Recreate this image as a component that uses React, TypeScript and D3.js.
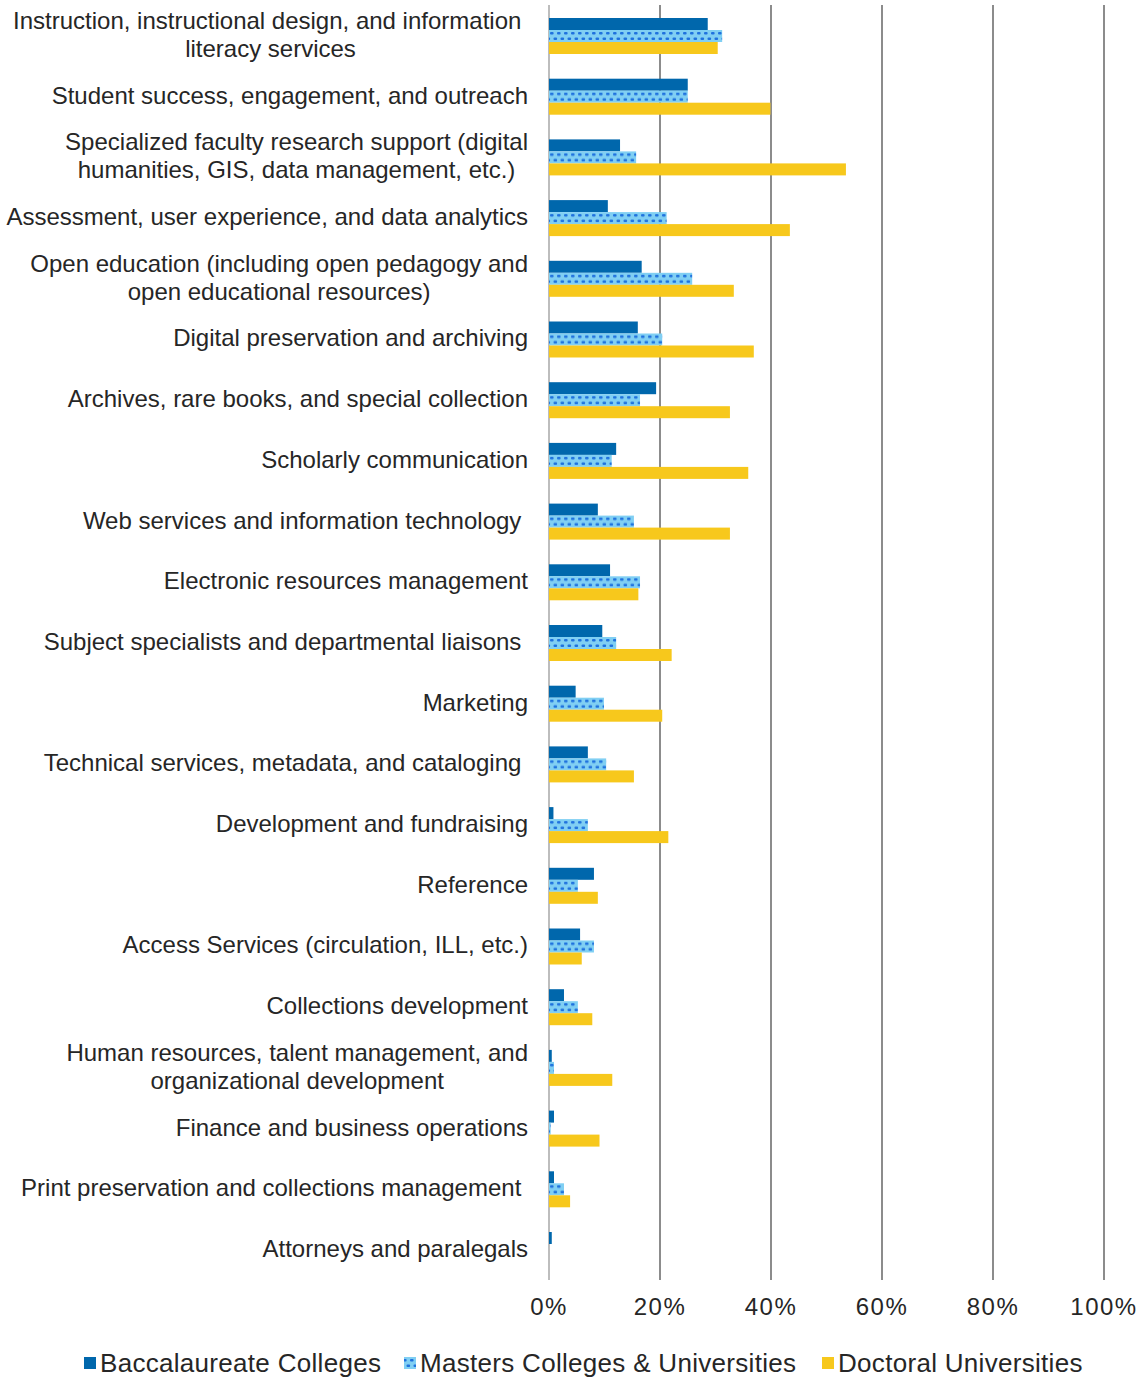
import React, { useEffect, useRef } from 'react';
import * as d3 from 'd3';

const categories: string[] = [
  'Instruction, instructional design, and information \nliteracy services',
  'Student success, engagement, and outreach',
  'Specialized faculty research support (digital\nhumanities, GIS, data management, etc.)',
  'Assessment, user experience, and data analytics',
  'Open education (including open pedagogy and\nopen educational resources)',
  'Digital preservation and archiving',
  'Archives, rare books, and special collection',
  'Scholarly communication',
  'Web services and information technology ',
  'Electronic resources management',
  'Subject specialists and departmental liaisons ',
  'Marketing',
  'Technical services, metadata, and cataloging ',
  'Development and fundraising',
  'Reference',
  'Access Services (circulation, ILL, etc.)',
  'Collections development',
  'Human resources, talent management, and\norganizational development',
  'Finance and business operations',
  'Print preservation and collections management ',
  'Attorneys and paralegals',
];

const baccalaureate: number[] = [28.6, 25.0, 12.8, 10.6, 16.7, 16.0, 19.3, 12.1, 8.8, 11.0, 9.6, 4.8, 7.0, 0.8, 8.1, 5.6, 2.7, 0.5, 0.9, 0.9, 0.5];
const masters: number[] = [31.2, 25.0, 15.7, 21.2, 25.8, 20.4, 16.4, 11.3, 15.3, 16.4, 12.1, 9.9, 10.3, 7.0, 5.2, 8.1, 5.2, 0.9, 0.3, 2.7, 0];
const doctoral: number[] = [30.4, 39.9, 53.5, 43.4, 33.3, 36.9, 32.6, 35.9, 32.6, 16.1, 22.1, 20.4, 15.3, 21.5, 8.8, 5.9, 7.8, 11.4, 9.1, 3.8, 0];

const seriesNames: string[] = ['Baccalaureate Colleges', 'Masters Colleges & Universities', 'Doctoral Universities'];
const xTicks: number[] = [0, 20, 40, 60, 80, 100];

const W = 1138;
const H = 1378;
const FONT = '"Liberation Sans", Arial, sans-serif';
const BACC = '#0067AC';
const MAST_BG = '#80CFF3';
const MAST_DOT = '#1F72DE';
const DOC = '#F7C81C';
const TEXT = '#262626';

export default function App() {
  const ref = useRef<SVGSVGElement | null>(null);

  useEffect(() => {
    const svg = d3.select(ref.current);
    svg.selectAll('*').remove();

    const x = d3.scaleLinear().domain([0, 100]).range([549, 1104]);
    const y = d3.scaleBand<string>().domain(categories).range([5.65, 1280.35]).paddingInner(0.407).paddingOuter(0.2035);
    const ySub = d3.scaleBand<string>().domain(seriesNames).range([0, y.bandwidth()]);
    const data = [baccalaureate, masters, doctoral];

    const defs = svg.append('defs');
    const mkPattern = (id: string, y0: number) => {
      const p = defs.append('pattern').attr('id', id).attr('patternUnits', 'userSpaceOnUse')
        .attr('x', 549).attr('y', y0).attr('width', 7).attr('height', 12);
      p.append('rect').attr('width', 7).attr('height', 12).attr('fill', MAST_BG);
      p.append('rect').attr('x', 1).attr('y', 2).attr('width', 3.6).attr('height', 2.4).attr('rx', 1).attr('fill', MAST_DOT);
      p.append('rect').attr('x', 4.5).attr('y', 7.6).attr('width', 3.6).attr('height', 2.4).attr('rx', 1).attr('fill', MAST_DOT);
      p.append('rect').attr('x', -2.5).attr('y', 7.6).attr('width', 3.6).attr('height', 2.4).attr('rx', 1).attr('fill', MAST_DOT);
    };

    // gridlines
    svg.append('g').selectAll('line').data(xTicks).join('line')
      .attr('x1', (d) => x(d)).attr('x2', (d) => x(d))
      .attr('y1', 5).attr('y2', 1280)
      .attr('stroke', (d) => (d === 0 ? '#BDBDBD' : '#8C8C8C'))
      .attr('stroke-width', 2);

    // bars
    const colors = [BACC, null, DOC];
    categories.forEach((c, i) => {
      const g = svg.append('g');
      data.forEach((arr, s) => {
        const v = arr[i];
        if (v <= 0) return;
        const by = (y(c) as number) + (ySub(seriesNames[s]) as number);
        let fill = colors[s] as string | null;
        if (fill === null) {
          const pid = `mpat${i}`;
          mkPattern(pid, by);
          fill = `url(#${pid})`;
        }
        g.append('rect')
          .attr('x', x(0)).attr('y', by)
          .attr('width', x(v) - x(0)).attr('height', ySub.bandwidth())
          .attr('fill', fill);
      });
    });

    // category labels
    const labelG = svg.append('g').attr('font-family', FONT).attr('font-size', 24).attr('fill', TEXT);
    categories.forEach((c) => {
      const lines = c.split('\n');
      const cy = (y(c) as number) + y.bandwidth() / 2;
      const t = labelG.append('text').style('white-space', 'pre').attr('text-anchor', 'middle');
      const spans = lines.map((ln, k) =>
        t.append('tspan').text(ln)
          .attr('y', cy - 1.5 + (k - (lines.length - 1) / 2) * 28)
          .attr('dy', '0.35em')
      );
      const widths = spans.map((sp) => (sp.node() as SVGTSpanElement).getComputedTextLength());
      const maxW = Math.max(...widths);
      const cx = 528 - maxW / 2;
      spans.forEach((sp) => sp.attr('x', cx));
    });

    // tick labels
    svg.append('g').attr('font-family', FONT).attr('font-size', 24).attr('fill', TEXT)
      .selectAll('text').data(xTicks).join('text')
      .attr('x', (d) => x(d)).attr('y', 1307).attr('dy', '0.35em')
      .attr('text-anchor', 'middle').attr('letter-spacing', 1.5)
      .text((d) => `${d}%`);

    // legend
    mkPattern('mpatLegend', 1357);
    const legendX = [84, 404, 822];
    const legendFill = [BACC, 'url(#mpatLegend)', DOC];
    const lg = svg.append('g').attr('font-family', FONT).attr('font-size', 26).attr('fill', TEXT);
    seriesNames.forEach((n, s) => {
      lg.append('rect').attr('x', legendX[s]).attr('y', 1357).attr('width', 12).attr('height', 12).attr('fill', legendFill[s]);
      lg.append('text').attr('x', legendX[s] + 16).attr('y', 1363).attr('dy', '0.35em')
        .attr('letter-spacing', 0.3).text(n);
    });
  }, []);

  return (
    <svg ref={ref} width={W} height={H} viewBox={`0 0 ${W} ${H}`}
      style={{ position: 'absolute', left: 0, top: 0, display: 'block', background: '#fff' }} />
  );
}
